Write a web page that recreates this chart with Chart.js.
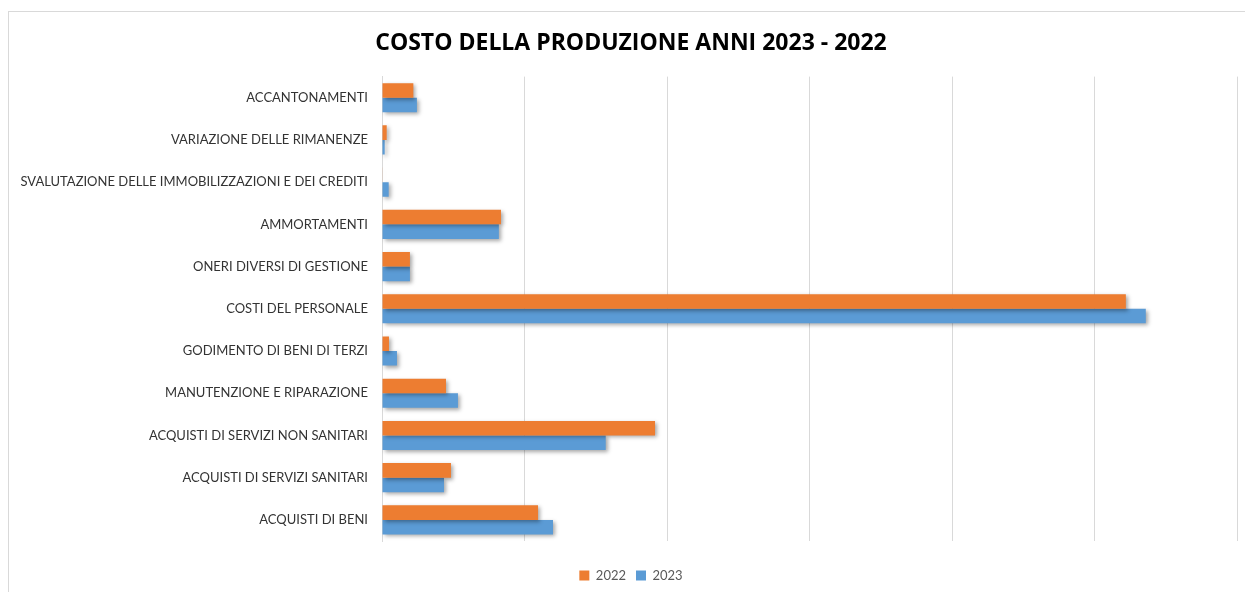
<!DOCTYPE html>
<html>
<head>
<meta charset="utf-8">
<script src="https://cdn.jsdelivr.net/npm/chart.js@4"></script>
<style>
    html, body { margin: 0; padding: 0; background: #fff; }
    #frame {
        position: absolute; left: 8px; top: 11px; width: 1245px; height: 600px;
        border-left: 1px solid #d9d9d9; border-top: 1px solid #d9d9d9;
    }
    #wrap { position: absolute; left: 0; top: 0; width: 1245px; height: 592px; }
</style>
</head>
<body>
<div id="frame"></div>
<div id="wrap"><canvas id="costChart"></canvas></div>
<script>
// Cost categories (top to bottom)
const categories = [
    'ACCANTONAMENTI',
    'VARIAZIONE DELLE RIMANENZE',
    'SVALUTAZIONE DELLE IMMOBILIZZAZIONI E DEI CREDITI',
    'AMMORTAMENTI',
    'ONERI DIVERSI DI GESTIONE',
    'COSTI DEL PERSONALE',
    'GODIMENTO DI BENI DI TERZI',
    'MANUTENZIONE E RIPARAZIONE',
    'ACQUISTI DI SERVIZI NON SANITARI',
    'ACQUISTI DI SERVIZI SANITARI',
    'ACQUISTI DI BENI'
];

// Values (axis has no labels, relative units)
const values2022 = [2.2, 0.33, 0.03, 8.35, 1.96, 52.2, 0.49, 4.49, 19.16, 4.84, 10.95];
const values2023 = [2.45, 0.19, 0.47, 8.2, 1.96, 53.6, 1.05, 5.33, 15.7, 4.35, 12.0];

const seriesLabels = ['2022', '2023'];

// Soft drop shadow under the bars, like the office chart
const barShadow = {
    id: 'barShadow',
    beforeDatasetDraw(chart) {
        const ctx = chart.ctx;
        ctx.save();
        ctx.shadowColor = 'rgba(0, 0, 0, 0.35)';
        ctx.shadowBlur = 4;
        ctx.shadowOffsetX = 2;
        ctx.shadowOffsetY = 2;
    },
    afterDatasetDraw(chart) {
        chart.ctx.restore();
    }
};

// Let the long category label run into the left padding (no clipping)
const labelRoom = {
    id: 'labelRoom',
    afterLayout(chart) {
        chart.scales.y.left = 0;
    }
};

const createChart = () => {
    const ctx = document.getElementById('costChart');
    if (!ctx || !window.Chart) return;

    new Chart(ctx, {
        type: 'bar',
        data: {
            labels: categories,
            datasets: [
                {
                    label: seriesLabels[0],
                    data: values2022,
                    backgroundColor: '#ED7D31',
                    barPercentage: 1.0,
                    categoryPercentage: 0.69
                },
                {
                    label: seriesLabels[1],
                    data: values2023,
                    backgroundColor: '#5B9BD5',
                    barPercentage: 1.0,
                    categoryPercentage: 0.69
                }
            ]
        },
        plugins: [barShadow, labelRoom],
        options: {
            indexAxis: 'y',
            responsive: true,
            maintainAspectRatio: false,
            animation: false,
            layout: {
                padding: { left: 25, right: 8, top: 0, bottom: 0 }
            },
            plugins: {
                title: {
                    display: true,
                    text: 'COSTO DELLA PRODUZIONE ANNI 2023 - 2022',
                    color: '#000',
                    font: { family: 'Open Sans', size: 23, weight: 'bold' },
                    padding: { top: 30, bottom: 19 }
                },
                legend: {
                    position: 'bottom',
                    labels: {
                        color: '#595959',
                        boxWidth: 10,
                        boxHeight: 10,
                        padding: 10,
                        font: { family: 'Lato', size: 13 }
                    }
                },
                tooltip: { enabled: false }
            },
            scales: {
                x: {
                    min: 0,
                    max: 60,
                    ticks: { display: false, stepSize: 10 },
                    grid: { color: '#d9d9d9', drawTicks: false },
                    border: { display: false },
                    afterFit: (s) => { s.height = 18; }
                },
                y: {
                    ticks: {
                        color: '#333333',
                        padding: 14,
                        font: { family: 'Lato', size: 13 }
                    },
                    grid: { display: false, drawTicks: false },
                    border: { display: true, color: '#d9d9d9' },
                    afterFit: (s) => { s.width = 357; }
                }
            }
        }
    });
};

document.addEventListener('DOMContentLoaded', createChart);
</script>
</body>
</html>
